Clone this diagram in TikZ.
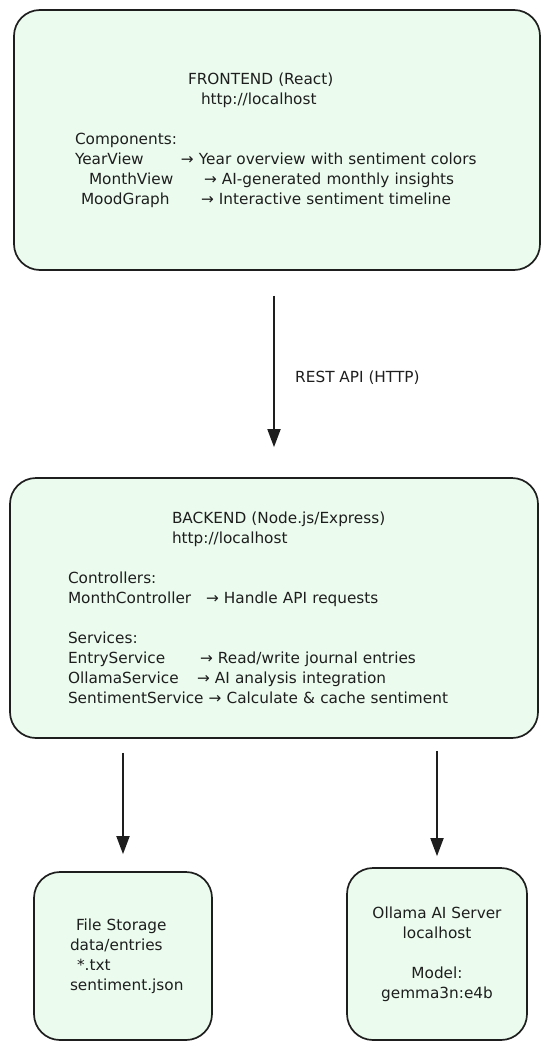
\documentclass[tikz,border=0pt]{standalone}
\usepackage{fontspec}
\setmainfont{DejaVu Sans}
\usetikzlibrary{arrows.meta}
\definecolor{boxfill}{HTML}{EBFBEE}
\definecolor{ink}{HTML}{1E1E1E}
\tikzset{
  box/.style={draw=ink, fill=boxfill, line width=1.7pt, rounded corners=26pt, inner sep=0pt},
  arr/.style={draw=ink, line width=1.8pt, -{Triangle[length=18pt,width=13pt]}},
  txt/.style={text=ink, font=\fontsize{15.3}{20}\selectfont},
}
\begin{document}
\begin{tikzpicture}[x=1pt,y=-1pt]
    \useasboundingbox (0,0) rectangle (550,1051);

    % Frontend
    \node[box, txt, minimum width=526pt, minimum height=260pt, text width=404pt, align=left] (front) at (277,140) {%
        \hspace*{113pt}FRONTEND (React)\\
        \hspace*{126pt}http://localhost\\
        \mbox{}\\
        Components:\\
        \makebox[106pt][l]{YearView}→ Year overview with sentiment colors\\
        \hspace*{14pt}\makebox[115pt][l]{MonthView}→ AI-generated monthly insights\\
        \hspace*{6pt}\makebox[120pt][l]{MoodGraph}→ Interactive sentiment timeline};

    % Backend
    \node[box, txt, minimum width=528pt, minimum height=260pt, text width=412pt, align=left] (back) at (274,608) {%
        \hspace*{104pt}BACKEND (Node.js/Express)\\
        \hspace*{104pt}http://localhost\\
        \mbox{}\\
        Controllers:\\
        \makebox[138pt][l]{MonthController}→ Handle API requests\\
        \mbox{}\\
        Services:\\
        \makebox[132pt][l]{EntryService}→ Read/write journal entries\\
        \makebox[129pt][l]{OllamaService}→ AI analysis integration\\
        SentimentService → Calculate \& cache sentiment};

    % Speicher und KI-Server
    \node[box, txt, minimum width=178pt, minimum height=168pt, text width=106pt, align=left] (store) at (123,956) {%
        \hspace*{6pt}File Storage\\
        data/entries\\
        \hspace*{7pt}*.txt\\
        sentiment.json};
    \node[box, txt, minimum width=180pt, minimum height=172pt, align=center] (llm) at (437,954) {%
        Ollama AI Server\\
        localhost\\
        \mbox{}\\
        Model:\\
        gemma3n:e4b};

    % Pfeile
    \draw[arr, shorten <=25pt, shorten >=30pt] (front.south -| back.north) -- node[txt, pos=0.52, right=17pt] (rest) {REST API (HTTP)} (back.north);
    \draw[arr, shorten <=14pt, shorten >=17pt] (store.north |- back.south) -- (store.north);
    \draw[arr, shorten <=12pt, shorten >=11pt] (llm.north |- back.south) -- (llm.north);
\end{tikzpicture}
\end{document}
